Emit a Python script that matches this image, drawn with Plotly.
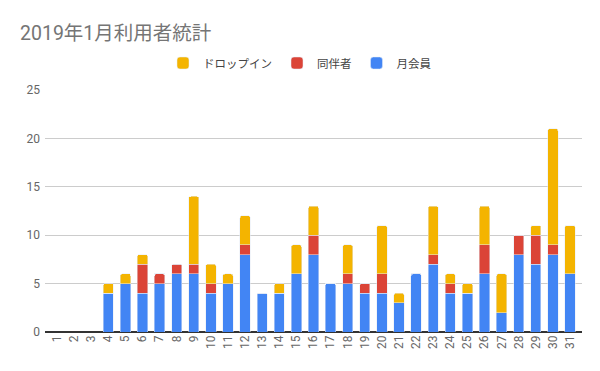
import plotly.graph_objects as go

days = list(range(1, 32))
day_labels = [str(d) for d in days]
members = [0, 0, 0, 4, 5, 4, 5, 6, 6, 4, 5, 8, 4, 4, 6, 8, 5, 5, 4, 4, 3, 6, 7, 4, 4, 6, 2, 8, 7, 8, 6]
companions = [0, 0, 0, 0, 0, 3, 1, 1, 1, 1, 0, 1, 0, 0, 0, 2, 0, 1, 1, 2, 0, 0, 1, 1, 0, 3, 0, 2, 3, 1, 0]
dropins = [0, 0, 0, 1, 1, 1, 0, 0, 7, 2, 1, 3, 0, 1, 3, 3, 0, 3, 0, 5, 1, 0, 5, 1, 1, 4, 4, 0, 1, 12, 5]
y_ticks = [0, 5, 10, 15, 20, 25]

font_family = "Roboto, 'Noto Sans CJK JP', sans-serif"

# page body has an 8px margin; size the figure so it fills the 600x371 window
W, H, OFF = 592, 363, 8

fig = go.Figure()
fig.add_trace(go.Bar(x=days, y=members, name="月会員", marker_color="#4285f4", width=0.6))
fig.add_trace(go.Bar(x=days, y=companions, name="同伴者", marker_color="#db4437", width=0.6))
fig.add_trace(go.Bar(x=days, y=dropins, name="ドロップイン", marker_color="#f4b400", width=0.6))

fig.update_layout(
    width=W, height=H,
    barmode="stack",
    barcornerradius=2,
    paper_bgcolor="white", plot_bgcolor="white",
    margin=dict(l=45 - OFF, r=18, t=90 - OFF, b=39),
    font=dict(family=font_family, color="#444444", size=12),
    title=dict(text="2019年1月利用者統計", x=(20 - OFF) / W, xanchor="left", xref="container",
               y=1 - (33 - OFF) / H, yanchor="middle", yref="container",
               font=dict(size=19.5, color="#757575", family=font_family)),
    legend=dict(orientation="h", x=(300 - OFF) / W, xanchor="center", xref="container",
                y=1 - (63 - OFF) / H, yanchor="middle", yref="container",
                traceorder="reversed", font=dict(size=11.5, color="#444444"),
                itemwidth=30),
    xaxis=dict(range=[0.3, 31.7], tickmode="array", tickvals=days, ticktext=day_labels,
               tickangle=-90, showgrid=False, zeroline=False, showline=False,
               ticks="", tickfont=dict(size=12, color="#666666"), fixedrange=True,
               automargin=False),
    yaxis=dict(range=[0, 25], tickmode="array", tickvals=y_ticks, showgrid=True,
               gridcolor="#cccccc", gridwidth=1, zeroline=True, zerolinecolor="#333333",
               zerolinewidth=1.5, ticks="", tickfont=dict(size=12, color="#666666"),
               ticklabelstandoff=4, automargin=False),
    showlegend=True,
)

fig.write_html("out.html")
